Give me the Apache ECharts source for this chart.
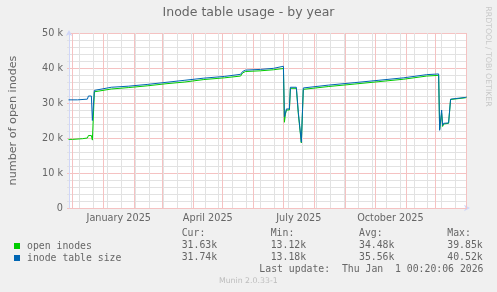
<!DOCTYPE html>
<html><head><meta charset="utf-8">
<script src="https://cdn.jsdelivr.net/npm/echarts@6/dist/echarts.min.js"></script>
<style>html,body{margin:0;padding:0;background:#f0f0f0}#c{width:497px;height:292px}</style>
</head><body><div id="c"></div>
<script>
// ---- data ----
const xMin = '2024-11-27T12:00:00';
const xMax = '2026-01-01T12:00:00';
const monthStarts = ['2024-12-01','2025-01-01','2025-02-01','2025-03-01','2025-04-01','2025-05-01','2025-06-01','2025-07-01','2025-08-01','2025-09-01','2025-10-01','2025-11-01','2025-12-01','2026-01-01'];
const labelDates = ['2025-01-16T12:00:00','2025-04-16T00:00:00','2025-07-16T12:00:00','2025-10-16T12:00:00'];
const labelTexts = ['January 2025','April 2025','July 2025','October 2025'];
const biweekly = ['2024-12-08','2024-12-22','2025-01-05','2025-01-19','2025-02-02','2025-02-16','2025-03-02','2025-03-16','2025-03-30','2025-04-13','2025-04-27','2025-05-11','2025-05-25','2025-06-08','2025-06-22','2025-07-06','2025-07-20','2025-08-03','2025-08-17','2025-08-31','2025-09-14','2025-09-28','2025-10-12','2025-10-26','2025-11-09','2025-11-23','2025-12-07','2025-12-21'];
const yTickLabels = ['0','10 k','20 k','30 k','40 k','50 k'];

const openDates = ['2024-11-27','2024-12-01','2024-12-02','2024-12-11','2024-12-12','2024-12-16','2024-12-17','2024-12-20','2024-12-21','2024-12-23','2025-01-09','2025-01-26','2025-02-14','2025-03-05','2025-03-24','2025-04-12','2025-05-03','2025-05-19','2025-05-21','2025-05-24','2025-06-08','2025-06-21','2025-07-01','2025-07-02','2025-07-03','2025-07-04','2025-07-07','2025-07-08','2025-07-14','2025-07-16','2025-07-17','2025-07-19','2025-07-21','2025-07-22','2025-08-15','2025-09-10','2025-10-05','2025-10-30','2025-11-22','2025-12-04','2025-12-05','2025-12-07','2025-12-08','2025-12-09','2025-12-14','2025-12-16','2025-12-31','2026-01-01'];
const openVals  = [19600,19600,19700,19800,20000,20000,20700,20700,19400,33200,34000,34400,34900,35500,36000,36700,37200,37700,38600,39000,39200,39500,39850,24500,26800,28000,28000,34200,34200,26800,26500,18600,33900,34100,34700,35400,36100,36800,37700,37900,22500,27000,23300,24000,24200,31000,31500,31630];

const sizeDates = ['2024-11-27','2024-12-06','2024-12-07','2024-12-16','2024-12-17','2024-12-20','2024-12-21','2024-12-23','2024-12-24','2025-01-09','2025-01-26','2025-02-14','2025-03-05','2025-03-24','2025-04-12','2025-05-03','2025-05-19','2025-05-21','2025-05-24','2025-06-08','2025-06-21','2025-07-01','2025-07-02','2025-07-03','2025-07-04','2025-07-07','2025-07-08','2025-07-14','2025-07-16','2025-07-17','2025-07-19','2025-07-21','2025-07-22','2025-08-15','2025-09-10','2025-10-05','2025-10-30','2025-11-22','2025-12-04','2025-12-05','2025-12-07','2025-12-08','2025-12-09','2025-12-14','2025-12-16','2025-12-31','2026-01-01'];
const sizeVals  = [30900,30900,31100,31100,32000,32000,25000,33600,33900,34500,34800,35300,35900,36500,37100,37600,38200,39000,39400,39600,39900,40500,26000,27000,28300,28300,34500,34500,27300,27000,18800,34300,34500,35100,35800,36500,37200,38100,38300,22200,28000,23600,24200,24300,31100,31600,31740];

const seriesNames = ['open inodes','inode table size'];
const statHeads = ['Cur:','Min:','Avg:','Max:'];
const openStats = ['31.63k','13.12k','34.48k','39.85k'];
const sizeStats = ['31.74k','13.18k','35.56k','40.52k'];
const lastUpdate = 'Last update:  Thu Jan  1 00:20:06 2026';
const versionText = 'Munin 2.0.33-1';
const watermark = 'RRDTOOL / TOBI OETIKER';

// ---- chart ----
const ts = s => new Date(s.length === 10 ? s + 'T00:00:00' : s).getTime();
const GRID = '#e2e2e2';
const MGRID = '#f5c2c2';
const AXIS = '#CFD6F8';
const FONT = '#666666';
const SANS = '"DejaVu Sans"';
const MONO = '"DejaVu Sans Mono"';

const zip = (d, v) => d.map((x, i) => [ts(x), v[i]]);
const labelTs = labelDates.map(ts);
const statCols = [181.7, 270.7, 359, 447.3];
const graphics = [];
statHeads.forEach((t, i) => graphics.push({type:'text', x:statCols[i], y:233.5, style:{text:t, font:'9.8px ' + MONO, fill:FONT, verticalAlign:'middle'}}));
openStats.forEach((t, i) => graphics.push({type:'text', x:statCols[i], y:245.7, style:{text:t, font:'9.8px ' + MONO, fill:FONT, verticalAlign:'middle'}}));
sizeStats.forEach((t, i) => graphics.push({type:'text', x:statCols[i], y:257.7, style:{text:t, font:'9.8px ' + MONO, fill:FONT, verticalAlign:'middle'}}));
graphics.push({type:'text', x:483.5, y:269.7, style:{text:lastUpdate, font:'9.8px ' + MONO, fill:FONT, align:'right', verticalAlign:'middle'}});
graphics.push({type:'text', x:248.3, y:281, style:{text:versionText, font:'7.8px ' + SANS, fill:'#bdbdbd', align:'center', verticalAlign:'middle'}});
graphics.push({type:'text', x:488.5, y:56.5, rotation:-Math.PI/2, style:{text:watermark, font:'7.8px ' + SANS, fill:'#c8c8c8', align:'center', verticalAlign:'middle'}});

const gridLineSeries = (dates, color, z) => ({
  type:'line', xAxisIndex:0, data:[], z:z, silent:true, color:color,
  lineStyle:{color:color, width:1},
  markLine:{silent:true, z:z, symbol:'none', animation:false, label:{show:false},
    lineStyle:{color:color, type:'solid', width:1},
    itemStyle:{color:color},
    emphasis:{disabled:true},
    data:dates.map(d => ({xAxis:ts(d), lineStyle:{color:color}}))}
});

const chart = echarts.init(document.getElementById('c'), null, {renderer:'canvas'});
chart.setOption({
  animation:false,
  backgroundColor:'#f0f0f0',
  title:{text:'Inode table usage - by year', left:'center', top:6, padding:0,
    textStyle:{fontFamily:SANS, fontSize:12.5, fontWeight:'normal', color:FONT}},
  legend:{orient:'vertical', left:14, top:240, padding:0, itemWidth:6, itemHeight:6, itemGap:0, icon:'rect', selectedMode:false,
    itemStyle:{borderWidth:0},
    textStyle:{fontFamily:MONO, fontSize:9.8, color:FONT, lineHeight:12, padding:[0,0,0,2]},
    data:seriesNames},
  grid:{left:67, right:30, top:33, bottom:84, containLabel:false, backgroundColor:'#ffffff', show:true, borderWidth:0},
  xAxis:{
    type:'value', min:ts(xMin), max:ts(xMax), position:'bottom', scale:true,
    axisLine:{show:true, onZero:false, lineStyle:{color:AXIS, width:1}, symbol:['none','arrow'], symbolSize:[5,6], symbolOffset:[0,3]},
    axisTick:{show:false},
    axisLabel:{show:true, customValues:labelTs, margin:5, hideOverlap:false, showMinLabel:true, showMaxLabel:true,
      fontFamily:SANS, fontSize:9.7, color:FONT,
      formatter:(v) => { const i = labelTs.indexOf(v); return i >= 0 ? labelTexts[i] : ''; }},
    splitLine:{show:false}
  },
  yAxis:{
    type:'value', min:0, max:50000, interval:10000, z:1,
    name:'number of open inodes', nameLocation:'middle', nameGap:50,
    nameTextStyle:{fontFamily:SANS, fontSize:11.2, color:FONT},
    axisLine:{show:true, onZero:false, lineStyle:{color:AXIS, width:1}, symbol:['none','arrow'], symbolSize:[5,6], symbolOffset:[0,3]},
    axisTick:{show:true, length:2, lineStyle:{color:MGRID}},
    minorTick:{show:true, splitNumber:5, length:2, lineStyle:{color:GRID}},
    axisLabel:{margin:6, fontFamily:SANS, fontSize:9.7, color:FONT,
      formatter:(v) => yTickLabels[Math.round(v / 10000)]},
    splitLine:{show:true, lineStyle:{color:MGRID, type:'solid', width:1}},
    minorSplitLine:{show:true, lineStyle:{color:GRID, type:'solid', width:1}}
  },
  series:[
    {name:seriesNames[0], type:'line', xAxisIndex:0, z:3, data:zip(openDates, openVals), showSymbol:false, color:'#00cc00', lineStyle:{width:1, color:'#00cc00'}},
    {name:seriesNames[1], type:'line', xAxisIndex:0, z:4, data:zip(sizeDates, sizeVals), showSymbol:false, color:'#0066b3', lineStyle:{width:1, color:'#0066b3'}},
    gridLineSeries(biweekly, GRID, 1),
    gridLineSeries(monthStarts, MGRID, 2)
  ],
  graphic:graphics
});
</script></body></html>
